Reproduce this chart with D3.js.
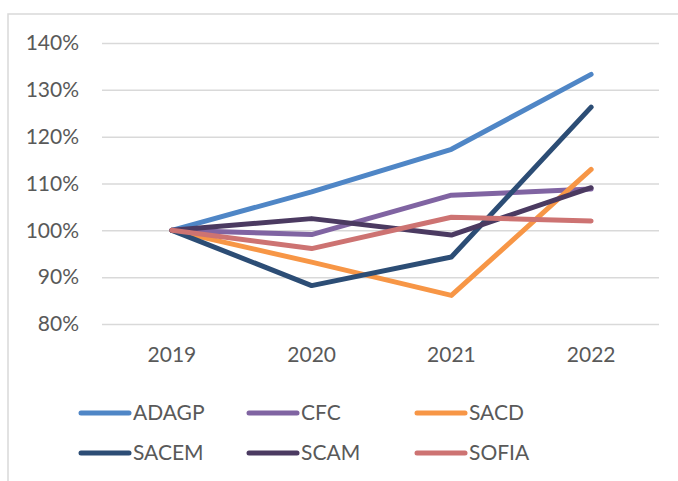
<!DOCTYPE html>
<html>
<head>
<meta charset="utf-8">
<script src="https://cdn.jsdelivr.net/npm/d3@7"></script>
<style>
  body { margin: 0; background: #fff; }
  svg text { font-family: Lato, "Noto Sans", sans-serif; fill: #595959; }
</style>
</head>
<body>
<main></main>
<script>
// data
const years = ["2019", "2020", "2021", "2022"];
const seriesNames = ["ADAGP", "CFC", "SACD", "SACEM", "SCAM", "SOFIA"];
const seriesColors = ["#4F86C6", "#8064A2", "#F79646", "#2C4D75", "#4B3A61", "#CD7372"];
const adagp = [1.00, 1.082, 1.173, 1.333];
const cfc   = [1.00, 0.991, 1.075, 1.088];
const sacd  = [1.00, 0.932, 0.861, 1.130];
const sacem = [1.00, 0.882, 0.943, 1.263];
const scam  = [1.00, 1.025, 0.990, 1.091];
const sofia = [1.00, 0.961, 1.028, 1.020];
const yTicks = [0.8, 0.9, 1.0, 1.1, 1.2, 1.3, 1.4];

const seriesValues = [adagp, cfc, sacd, sacem, scam, sofia];

const width = 678, height = 481;

const svg = d3.select("main")
  .append("svg")
  .attr("width", width)
  .attr("height", height);

// chart border (continues past the picture edges)
svg.append("rect")
  .attr("x", 8)
  .attr("y", 14)
  .attr("width", 700)
  .attr("height", 500)
  .attr("fill", "none")
  .attr("stroke", "#d9d9d9")
  .attr("stroke-width", 1.5);

const x = d3.scaleBand()
  .domain(years)
  .range([102, 661]);

const y = d3.scaleLinear()
  .domain([0.8, 1.4])
  .range([324, 43]);

//y axis + gridlines
const yAxis = svg.append("g")
  .attr("transform", "translate(102,0)")
  .call(d3.axisLeft(y)
    .tickValues(yTicks)
    .tickFormat(d3.format(".0%"))
    .tickSize(-557)
    .tickPadding(23));
yAxis.select(".domain").remove();
yAxis.selectAll("line")
  .attr("stroke", "#d9d9d9")
  .attr("stroke-width", 1.5);
yAxis.selectAll("text")
  .attr("font-size", 21)
  .attr("fill", "#595959");

//x axis
const xAxis = svg.append("g")
  .attr("transform", "translate(0,324)")
  .call(d3.axisBottom(x).tickSize(0).tickPadding(23));
xAxis.select(".domain").remove();
xAxis.selectAll("text")
  .attr("font-size", 21)
  .attr("fill", "#595959");

const line = d3.line()
  .x((d, i) => x(years[i]) + x.bandwidth() / 2)
  .y(d => y(d));

svg.selectAll(".series")
  .data(seriesValues)
  .enter()
  .append("path")
  .attr("class", "series")
  .attr("d", d => line(d))
  .attr("fill", "none")
  .attr("stroke", (d, i) => seriesColors[i])
  .attr("stroke-width", 5)
  .attr("stroke-linecap", "round")
  .attr("stroke-linejoin", "round");

//legend
const legend = svg.append("g").attr("id", "legend");
const item = legend.selectAll("g")
  .data(seriesNames)
  .enter()
  .append("g")
  .attr("transform", (d, i) => `translate(${81 + (i % 3) * 168},${413 + Math.floor(i / 3) * 40})`);

item.append("line")
  .attr("x1", 0)
  .attr("x2", 48)
  .attr("stroke", (d, i) => seriesColors[i])
  .attr("stroke-width", 5)
  .attr("stroke-linecap", "round");

item.append("text")
  .attr("x", 52)
  .attr("dy", "0.35em")
  .attr("font-size", 21)
  .text(d => d);
</script>
</body>
</html>
